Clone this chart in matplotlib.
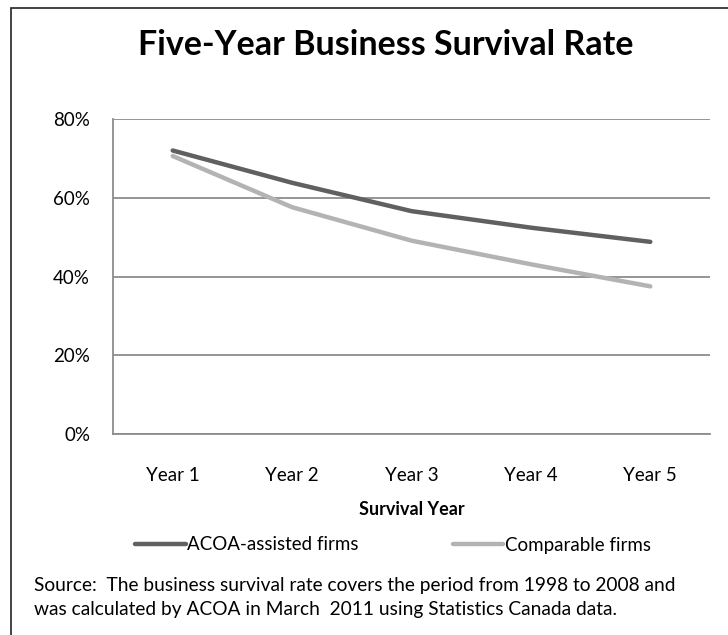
import matplotlib
matplotlib.use("Agg")
import matplotlib.pyplot as plt
from matplotlib.patches import Rectangle

years = ["Year 1", "Year 2", "Year 3", "Year 4", "Year 5"]
acoa = [72.0, 63.8, 56.6, 52.4, 48.8]
comparable = [70.6, 57.6, 49.1, 43.1, 37.5]
yticks = [0, 20, 40, 60, 80]
ytick_labels = ["0%", "20%", "40%", "60%", "80%"]

W, H = 728, 635
plt.rcParams['font.family'] = ['Lato', 'DejaVu Sans']
fig = plt.figure(figsize=(W / 100, H / 100), dpi=100)

# outer border (extends past right/bottom like reference crop)
fig.patches.append(Rectangle((11 / W, -0.1), 1.2, 1 - 8 / H + 0.1, transform=fig.transFigure,
                             fill=False, edgecolor='#222222', linewidth=1.2))

left, right, top, bottom = 113, 710, 119, 434
ax = fig.add_axes([left / W, 1 - bottom / H, (right - left) / W, (bottom - top) / H])

x = range(len(years))
ax.plot(x, acoa, color='#606060', lw=3.2, solid_capstyle='round', label='ACOA-assisted firms', zorder=3)
ax.plot(x, comparable, color='#b3b3b3', lw=3.2, solid_capstyle='round', label='Comparable firms', zorder=2)

ax.set_xlim(-0.5, 4.5)
ax.set_ylim(0, 80)
ax.set_yticks(yticks)
ax.set_yticklabels(ytick_labels)
ax.set_xticks(list(x))
ax.set_xticklabels(years)
ax.grid(axis='y', color='#8c8c8c', lw=1.3)
ax.set_axisbelow(True)
for s in ['top', 'right']:
    ax.spines[s].set_visible(False)
for s in ['left', 'bottom']:
    ax.spines[s].set_color('#8c8c8c')
    ax.spines[s].set_linewidth(1.3)
ax.tick_params(axis='both', length=0, labelsize=13.5, colors='black')
ax.tick_params(axis='y', pad=16.5)
ax.tick_params(axis='x', pad=24)
ax.set_xlabel('Survival Year', fontsize=13, fontweight='bold', labelpad=12)

fig.text(386 / W, 1 - 45 / H, 'Five-Year Business Survival Rate', ha='center', va='center',
         fontsize=24.5, fontweight='bold')

leg = fig.legend(loc='center', bbox_to_anchor=(393 / W, 1 - 545 / H), ncol=2, frameon=False,
                 fontsize=13.5, handlelength=2.7, handletextpad=0.1, columnspacing=5.0)

fig.text(34 / W, 1 - 585 / H, 'Source:  The business survival rate covers the period from 1998 to 2008 and',
         ha='left', va='center', fontsize=13.8)
fig.text(34 / W, 1 - 610 / H, 'was calculated by ACOA in March  2011 using Statistics Canada data.',
         ha='left', va='center', fontsize=13.8)

fig.savefig('out.png', dpi=100)
